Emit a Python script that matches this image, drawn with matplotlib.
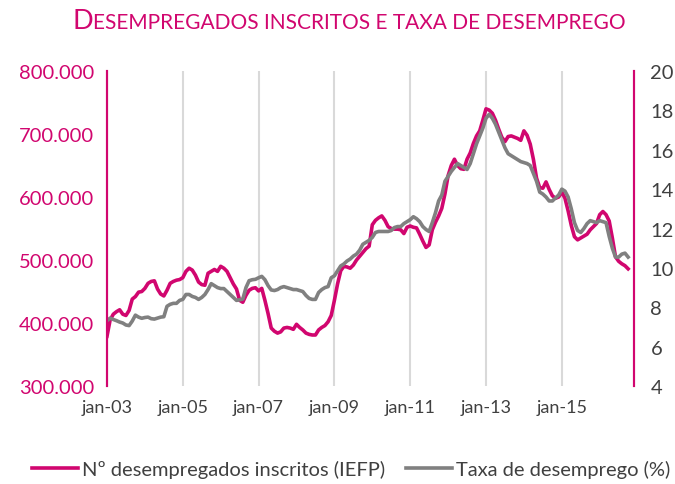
import matplotlib
matplotlib.use("Agg")
import matplotlib.pyplot as plt
from matplotlib.offsetbox import TextArea, HPacker, AnchoredOffsetbox
import numpy as np

plt.rcParams['font.family'] = ['Lato', 'DejaVu Sans']

# Nº desempregados inscritos (IEFP), mensal, jan-03 a out-16
inscritos = [
    379, 405, 414, 418, 421, 414, 412, 420, 438, 442, 449, 450,   # 2003
    455, 463, 466, 467, 454, 446, 443, 452, 463, 466, 468, 469,   # 2004
    472, 482, 487, 484, 476, 465, 461, 460, 479, 482, 485, 482,   # 2005
    490, 487, 482, 472, 462, 454, 436, 433, 444, 452, 455, 456,   # 2006
    451, 455, 436, 415, 392, 387, 384, 386, 392, 393, 392, 390,   # 2007
    398, 393, 389, 384, 382, 381, 381, 389, 393, 396, 402, 412,   # 2008
    436, 462, 483, 490, 489, 487, 492, 500, 506, 512, 518, 522,   # 2009
    556, 563, 567, 570, 563, 553, 550, 549, 549, 548, 542, 552,   # 2010
    554, 552, 551, 541, 530, 520, 524, 548, 560, 570, 582, 605,   # 2011
    634, 650, 660, 650, 645, 644, 660, 670, 685, 697, 705, 722,   # 2012
    740, 738, 733, 722, 708, 695, 688, 696, 697, 695, 693, 690,   # 2013
    705, 698, 684, 660, 630, 615, 614, 624, 612, 602, 598, 600,   # 2014
    608, 598, 578, 555, 537, 532, 535, 538, 541, 548, 553, 558,   # 2015
    572, 577, 572, 562, 535, 505, 498, 494, 491, 486,             # 2016
]
inscritos = [v * 1000 for v in inscritos]

# Taxa de desemprego (%)
taxa = [
    7.32, 7.45, 7.38, 7.32, 7.25, 7.2, 7.1, 7.07, 7.3, 7.6, 7.5, 7.44,
    7.48, 7.5, 7.42, 7.4, 7.45, 7.5, 7.52, 8.05, 8.15, 8.2, 8.2, 8.35,
    8.4, 8.65, 8.65, 8.55, 8.5, 8.4, 8.5, 8.65, 8.9, 9.2, 9.1, 9.0,
    8.95, 8.95, 8.8, 8.65, 8.5, 8.35, 8.38, 8.42, 9.0, 9.35, 9.4, 9.42,
    9.5, 9.57, 9.4, 9.1, 8.88, 8.85, 8.9, 9.0, 9.05, 9.0, 8.95, 8.9,
    8.9, 8.85, 8.8, 8.6, 8.45, 8.4, 8.4, 8.75, 8.9, 9.0, 9.05, 9.5,
    9.6, 9.85, 10.1, 10.2, 10.35, 10.45, 10.6, 10.7, 10.9, 11.2, 11.3, 11.4,
    11.55, 11.8, 11.85, 11.85, 11.85, 11.85, 11.9, 12.05, 12.1, 12.1, 12.25, 12.35,
    12.45, 12.6, 12.5, 12.35, 12.1, 11.95, 11.85, 12.3, 12.8, 13.4, 13.7, 14.4,
    14.65, 14.9, 15.1, 15.3, 15.2, 15.1, 15.0, 15.3, 15.8, 16.3, 16.7, 17.1,
    17.6, 17.8, 17.6, 17.3, 16.9, 16.5, 16.1, 15.8, 15.7, 15.6, 15.5, 15.4,
    15.35, 15.3, 15.2, 14.8, 14.4, 13.85, 13.75, 13.6, 13.4, 13.4, 13.55, 13.7,
    14.0, 13.9, 13.6, 13.0, 12.3, 11.9, 11.8, 12.0, 12.25, 12.4, 12.35, 12.3,
    12.4, 12.35, 12.3, 11.6, 11.0, 10.55, 10.55, 10.7, 10.75, 10.55,
]

rotulos_x = ["jan-03", "jan-05", "jan-07", "jan-09", "jan-11", "jan-13", "jan-15"]

MAGENTA = "#D1066F"
CINZA = "#808080"
TEXTO = "#404040"

meses = np.arange(len(inscritos))

fig = plt.figure(figsize=(6.75, 4.85), dpi=100)
ax = fig.add_axes([0.1585, 0.202, 0.7805, 0.6495])
ax2 = ax.twinx()

l1, = ax.plot(meses, inscritos, color=MAGENTA, lw=2.6, solid_joinstyle="round")
l2, = ax2.plot(meses, taxa, color=CINZA, lw=2.6, solid_joinstyle="round")

ax.set_xlim(0, 166.8)
ax.set_ylim(300000, 800000)
ax2.set_ylim(4, 20)

ax.set_xticks(np.arange(0, 24 * len(rotulos_x), 24))
ax.set_xticklabels(rotulos_x)
ax.grid(axis="x", color="#D9D9D9", lw=1.5)
ax.set_axisbelow(True)

ax.set_yticks(np.arange(300000, 800001, 100000))
ax.set_yticklabels([f"{v // 1000}.000" for v in range(300000, 800001, 100000)])
ax2.set_yticks(np.arange(4, 21, 2))

ax.tick_params(axis="y", length=0, colors=MAGENTA, labelsize=14.5, pad=9)
ax.tick_params(axis="x", length=0, colors=TEXTO, labelsize=13, pad=9)
ax2.tick_params(axis="y", length=0, colors=TEXTO, labelsize=14.5, pad=12)

for a in (ax, ax2):
    a.spines["top"].set_visible(False)
    a.spines["bottom"].set_visible(False)
    a.spines["left"].set_color(MAGENTA)
    a.spines["right"].set_color(MAGENTA)
    a.spines["left"].set_linewidth(1.5)
    a.spines["right"].set_linewidth(1.5)

# titulo em versaletes
t1 = TextArea("D", textprops=dict(color=MAGENTA, fontsize=19.5))
t2 = TextArea("ESEMPREGADOS INSCRITOS E TAXA DE DESEMPREGO",
              textprops=dict(color=MAGENTA, fontsize=15))
caixa = HPacker(children=[t1, t2], align="baseline", pad=0, sep=0)
titulo = AnchoredOffsetbox(loc="center", child=caixa, frameon=False,
                           bbox_to_anchor=(0.517, 0.955), bbox_transform=fig.transFigure)
fig.add_artist(titulo)

fig.legend([l1, l2], ["Nº desempregados inscritos (IEFP)", "Taxa de desemprego (%)"],
           loc="center", bbox_to_anchor=(0.52, 0.03), ncol=2, frameon=False,
           fontsize=14.5, labelcolor=TEXTO, handlelength=2.3, columnspacing=1.0,
           handletextpad=0.2)

fig.savefig("out.png", dpi=100)
